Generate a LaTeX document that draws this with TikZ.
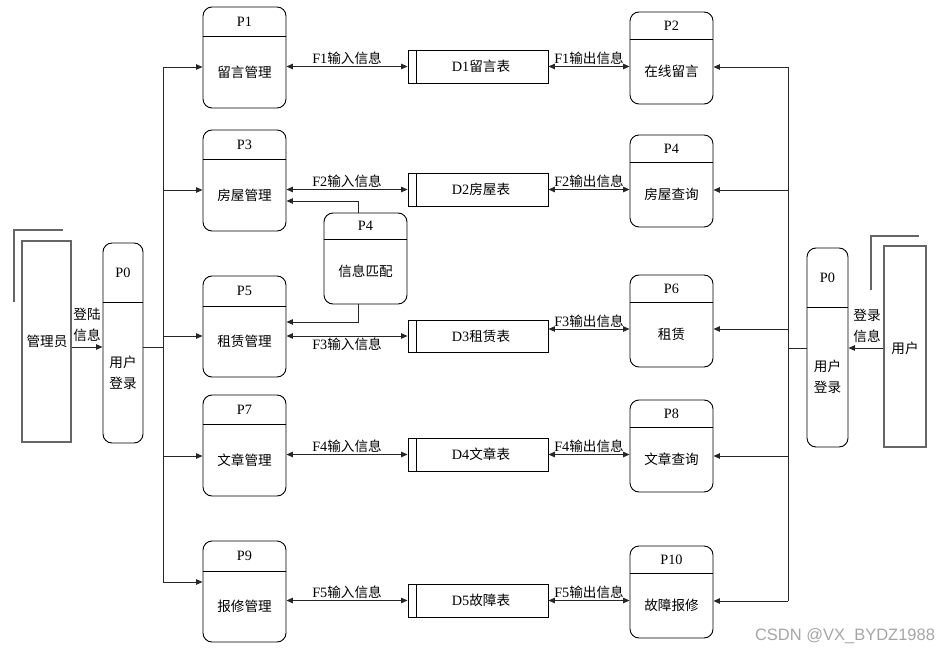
\documentclass[tikz,border=0pt]{standalone}
\usepackage{fontspec}
\setmainfont{Liberation Serif}[Scale=1.05]
\newfontfamily\cjk{Noto Sans CJK SC}
\newfontfamily\wmfont{Liberation Sans}
\usetikzlibrary{arrows.meta,fit}
\newcommand\zh[1]{{\cjk #1}}
\tikzset{
 procbox/.style={draw=black, line width=0.9pt, rounded corners=9pt, inner sep=0pt},
 storebox/.style={draw=black, line width=0.9pt, inner sep=0pt},
 entbox/.style={draw=black!60, line width=1.3pt, inner sep=0pt},
 entline/.style={draw=black!60, line width=1.3pt},
 flow/.style={draw=black!85, line width=0.9pt},
 arr/.style={flow, -{Triangle[length=6.5pt,width=5.5pt]}},
 biarr/.style={flow, {Triangle[length=6.5pt,width=5.5pt]}-{Triangle[length=6.5pt,width=5.5pt]}},
 lbl/.style={inner sep=1pt},
}
% name, x1, y1, x2, y2, ydiv, id, label
\newcommand\proc[8]{%
 \node[procbox, fit={(#2,#3)(#4,#5)}] (#1) {};
 \draw[line width=0.9pt] (#2,#6) -- (#4,#6);
 \node (#1-id) at ({(#2+#4)/2},{(#3+#6)/2}) {#7};
 \node[align=center] (#1-txt) at ({(#2+#4)/2},{(#6+#5)/2}) {#8};
}
% name, x1, y1, x2, y2, label
\newcommand\store[6]{%
 \node[storebox, fit={(#2,#3)(#4,#5)}] (#1) {};
 \draw[line width=0.9pt] ({#2+8},#3) -- ({#2+8},#5);
 \node (#1-txt) at ({(#2+#4)/2+3},{(#3+#5)/2}) {#6};
}
\begin{document}
\begin{tikzpicture}[x=1pt,y=-1pt,font=\fontsize{13.6}{21}\selectfont]
\useasboundingbox (0,0) rectangle (939,652);

% external entities
\node[entbox, fit={(22,241)(71,442)}] (admin) {};
\node (admin-txt) at (47,341) {\zh{管理员}};
\draw[entline] (14,302) -- (14,230) -- (63,230);
\node[entbox, fit={(884,246)(926,447)}] (user) {};
\node (user-txt) at (905,348) {\zh{用户}};
\draw[entline] (871,290) -- (871,236) -- (919,236);

% login processes
\proc{p0l}{103}{243}{143}{443}{302}{P0}{\zh{用户}\\\zh{登录}}
\proc{p0r}{807}{248}{848}{447}{307}{P0}{\zh{用户}\\\zh{登录}}

% left processes
\proc{p1}{203}{7}{286}{108}{36}{P1}{\zh{留言管理}}
\proc{p3}{203}{130}{286}{231}{159}{P3}{\zh{房屋管理}}
\proc{p5}{203}{276}{286}{377}{306}{P5}{\zh{租赁管理}}
\proc{p7}{203}{395}{286}{496}{424}{P7}{\zh{文章管理}}
\proc{p9}{203}{541}{286}{642}{571}{P9}{\zh{报修管理}}

% right processes
\proc{p2}{630}{12}{713}{104}{39}{P2}{\zh{在线留言}}
\proc{p4}{630}{135}{713}{227}{162}{P4}{\zh{房屋查询}}
\proc{p6}{630}{275}{713}{367}{302}{P6}{\zh{租赁}}
\proc{p8}{630}{400}{713}{492}{427}{P8}{\zh{文章查询}}
\proc{p10}{630}{546}{713}{638}{573}{P10}{\zh{故障报修}}

% matching process
\proc{pm}{324}{213}{407}{304}{239}{P4}{\zh{信息匹配}}

% data stores
\store{d1}{408}{50}{548}{83}{D1\zh{留言表}}
\store{d2}{408}{173}{548}{206}{D2\zh{房屋表}}
\store{d3}{408}{320}{548}{352}{D3\zh{租赁表}}
\store{d4}{408}{438}{548}{471}{D4\zh{文章表}}
\store{d5}{408}{584}{548}{617}{D5\zh{故障表}}

% left trunk
\coordinate (lt1) at (163,67);
\coordinate (lt2) at (163,190);
\coordinate (lt3) at (163,336);
\coordinate (lt4) at (163,456);
\coordinate (lt5) at (163,582);
\coordinate (ljoin) at (163,347);
\draw[flow] (lt1) -- (lt5);
\draw[arr] (lt1) -- (lt1 -| p1.west);
\draw[arr] (lt2) -- (lt2 -| p3.west);
\draw[arr] (lt3) -- (lt3 -| p5.west);
\draw[arr] (lt4) -- (lt4 -| p7.west);
\draw[arr] (lt5) -- (lt5 -| p9.west);
\draw[flow] (ljoin -| p0l.east) -- (ljoin);
\draw[arr] (ljoin -| admin.east) -- (ljoin -| p0l.west);
\node[align=center] (llbl) at (87,325) {\zh{登陆}\\\zh{信息}};

% right trunk
\coordinate (rt1) at (788,67);
\coordinate (rt2) at (788,190);
\coordinate (rt3) at (788,329);
\coordinate (rt4) at (788,456);
\coordinate (rt5) at (788,601);
\coordinate (rjoin) at (788,348);
\draw[flow] (rt1) -- (rt5);
\draw[arr] (rt1) -- (rt1 -| p2.east);
\draw[arr] (rt2) -- (rt2 -| p4.east);
\draw[arr] (rt3) -- (rt3 -| p6.east);
\draw[arr] (rt4) -- (rt4 -| p8.east);
\draw[arr] (rt5) -- (rt5 -| p10.east);
\draw[flow] (rjoin -| p0r.west) -- (rjoin);
\draw[arr] (rjoin -| user.west) -- (rjoin -| p0r.east);
\node[align=center] (rlbl) at (867,326) {\zh{登录}\\\zh{信息}};

% data flows
\draw[biarr] (d1.west -| p1.east) -- (d1.west) node[midway, above, lbl] {F1\zh{输入信息}};
\draw[biarr] (d1.east) -- (d1.east -| p2.west) node[midway, above, lbl] {F1\zh{输出信息}};
\draw[biarr] (d2.west -| p3.east) -- (d2.west) node[midway, above, lbl] {F2\zh{输入信息}};
\draw[biarr] (d2.east) -- (d2.east -| p4.west) node[midway, above, lbl] {F2\zh{输出信息}};
\draw[biarr] (d3.west -| p5.east) -- (d3.west) node[midway, below, lbl] {F3\zh{输入信息}};
\draw[biarr] (d3.east |- rt3) -- (p6.west |- rt3) node[midway, above, lbl] {F3\zh{输出信息}};
\draw[biarr] (d4.west -| p7.east) -- (d4.west) node[midway, above, lbl] {F4\zh{输入信息}};
\draw[biarr] (d4.east) -- (d4.east -| p8.west) node[midway, above, lbl] {F4\zh{输出信息}};
\draw[biarr] (d5.west -| p9.east) -- (d5.west) node[midway, above, lbl] {F5\zh{输入信息}};
\draw[biarr] (d5.east) -- (d5.east -| p10.west) node[midway, above, lbl] {F5\zh{输出信息}};

% matching feedback
\coordinate (m1) at (358,201);
\coordinate (m2) at (358,322);
\draw[arr] (pm.north -| m1) -- (m1) -- (m1 -| p3.east);
\draw[arr] (pm.south -| m2) -- (m2) -- (m2 -| p5.east);

% watermark
\node[font=\wmfont\fontsize{16.5}{18}\selectfont, text=black!35] (wm) at (845,636) {CSDN @VX\_BYDZ1988};
\end{tikzpicture}
\end{document}
